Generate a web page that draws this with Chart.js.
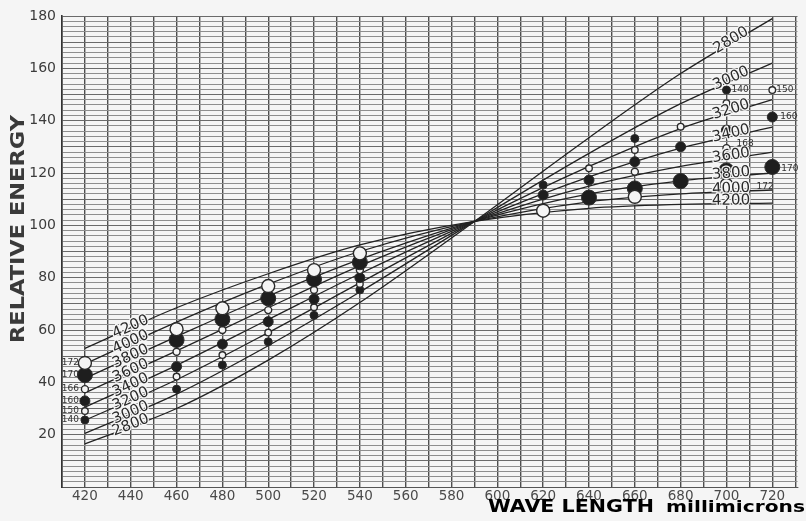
<!DOCTYPE html>
<html>
<head>
<meta charset="utf-8">
<script src="https://cdn.jsdelivr.net/npm/chart.js@4/dist/chart.umd.min.js"></script>
<style>
  html, body { margin: 0; padding: 0; background: #f5f5f5; }
  #wrap { width: 806px; height: 521px; position: relative; }
  canvas { display: block; }
</style>
</head>
<body>
<div id="wrap"><canvas id="c" width="806" height="521"></canvas></div>
<script>
// ---- Data ----
// Colour-temperature curves (relative energy vs wave length)
const curveWavelengths = [420, 460, 500, 540, 590, 640, 680, 720];
const tempLabels = ['2800', '3000', '3200', '3400', '3600', '3800', '4000', '4200'];
const k2800 = [16.5, 30, 48.5, 70.5, 101.5, 133.5, 158, 179];
const k3000 = [20.5, 35.5, 54, 74.5, 101.5, 127.5, 146.5, 162];
const k3200 = [25.5, 41, 59, 78, 101.5, 122.5, 137, 148];
const k3400 = [30.5, 46.5, 64, 81.5, 101.5, 118.5, 129.5, 137.5];
const k3600 = [36, 52, 68.5, 84.5, 101.5, 115, 122.5, 128];
const k3800 = [41.5, 57.5, 73, 87, 101.5, 112, 117, 120];
const k4000 = [47, 63, 77.5, 90, 101.5, 109, 112, 113.5];
const k4200 = [53, 68.5, 81.5, 92.5, 101.5, 106.5, 108, 108.5];

// Measured points (series named by the small numbers printed beside them)
const markerWavelengths = [420, 460, 480, 500, 520, 540, 620, 640, 660, 680, 700, 720];
const s172 = [47.4, 60.3, 68.3, 76.8, 82.9, 89.3, 105.6, null, 110.9, null, 115.4, null];
const s170 = [42.8, 56.2, 64.1, 72.1, 79.4, 85.9, null, 110.6, 114.1, 116.9, 121, 122.3];
const s168 = [37.4, 51.7, 60, 67.6, 75.3, 82.9, null, null, 120.5, null, 129.5, null];
const s160 = [32.9, 46, 54.6, 63.2, 71.8, 80, 111.6, 117.3, 124.3, 130, 136.4, 141.4];
const s150 = [29, 42.2, 50.4, 59, 68.7, 77.6, null, 121.8, 128.8, 137.7, 146.7, 151.7];
const s140 = [25.6, 37.4, 46.6, 55.5, 65.6, 75.3, 115.4, null, 133.2, null, 151.7, null];

// Axis tick labels
const xTickLabels = [420, 440, 460, 480, 500, 520, 540, 560, 580, 600, 620, 640, 660, 680, 700, 720];
const yTickLabels = [20, 40, 60, 80, 100, 120, 140, 160, 180];

// Text beside the point columns
const leftPointLabels = ['172', '170', '166', '160', '150', '140'];

// ---- Build chart ----
const paper = '#f5f5f5';
const ink = '#222';
const curves = [k2800, k3000, k3200, k3400, k3600, k3800, k4000, k4200];

function toPts(xs, ys) {
  const out = [];
  xs.forEach((x, i) => { if (ys[i] !== null) out.push({ x: x, y: ys[i] }); });
  return out;
}

const datasets = [];
curves.forEach((arr, i) => {
  datasets.push({
    label: tempLabels[i],
    data: toPts(curveWavelengths, arr),
    showLine: true,
    borderColor: ink,
    borderWidth: 1.3,
    pointRadius: 0,
    cubicInterpolationMode: 'monotone',
    fill: false,
    order: 2
  });
});

const markerSeries = [
  { name: '172', arr: s172, r: 6.5, filled: false },
  { name: '170', arr: s170, r: 7.5, filled: true },
  { name: '168', arr: s168, r: 3.5, filled: false },
  { name: '160', arr: s160, r: 5, filled: true },
  { name: '150', arr: s150, r: 3.3, filled: false },
  { name: '140', arr: s140, r: 4, filled: true }
];
markerSeries.forEach(m => {
  datasets.push({
    label: m.name,
    data: toPts(markerWavelengths, m.arr),
    showLine: false,
    pointStyle: 'circle',
    pointRadius: m.r,
    pointBackgroundColor: m.filled ? '#1e1e1e' : paper,
    pointBorderColor: '#2a2a2a',
    pointBorderWidth: m.filled ? 1 : 1.4,
    order: 1
  });
});

function valAt(arr, xs, x) {
  for (let i = 0; i < xs.length - 1; i++) {
    if (x >= xs[i] && x <= xs[i + 1]) {
      const t = (x - xs[i]) / (xs[i + 1] - xs[i]);
      return arr[i] + (arr[i + 1] - arr[i]) * t;
    }
  }
  return arr[arr.length - 1];
}

const annot = {
  id: 'annot',
  beforeDraw(chart) {
    const c = chart.ctx;
    c.save();
    c.fillStyle = paper;
    c.fillRect(0, 0, chart.width, chart.height);
    c.restore();
  },
  afterDatasetsDraw(chart) {
    const c = chart.ctx, xs = chart.scales.x, ys = chart.scales.y;
    c.save();
    // Temperature labels on the curves
    c.font = '15px "DejaVu Sans"';
    c.fillStyle = '#2a2a2a';
    c.textAlign = 'center';
    c.textBaseline = 'middle';
    curves.forEach((arr, i) => {
      [[440, 420, 460, -1], [702, 680, 720, -3]].forEach(([lx, a, b, dy]) => {
        const px = xs.getPixelForValue(lx);
        const py = ys.getPixelForValue(valAt(arr, curveWavelengths, lx)) + dy;
        const ang = Math.atan2(
          ys.getPixelForValue(valAt(arr, curveWavelengths, b)) - ys.getPixelForValue(valAt(arr, curveWavelengths, a)),
          xs.getPixelForValue(b) - xs.getPixelForValue(a));
        c.save();
        c.translate(px, py);
        c.rotate(ang);
        c.strokeStyle = paper;
        c.lineWidth = 2.5;
        c.strokeText(tempLabels[i], 0, 0);
        c.fillText(tempLabels[i], 0, 0);
        c.restore();
      });
    });
    // Small labels beside the point columns
    c.font = '9px "DejaVu Sans"';
    c.fillStyle = '#333';
    c.textAlign = 'right';
    const x420 = xs.getPixelForValue(420);
    const leftVals = [s172[0], s170[0], s168[0], s160[0], s150[0], s140[0]];
    leftPointLabels.forEach((t, i) => {
      c.fillText(t, x420 - 6, ys.getPixelForValue(leftVals[i]));
    });
    c.textAlign = 'left';
    const x700 = xs.getPixelForValue(700), x720 = xs.getPixelForValue(720);
    c.fillText('140', x700 + 5, ys.getPixelForValue(s140[10]));
    c.fillText('168', x700 + 10, ys.getPixelForValue(s168[10]) - 4);
    c.fillText('172', x700 + 30, ys.getPixelForValue(s172[10]) + 2);
    c.fillText('150', x720 + 4, ys.getPixelForValue(s150[11]));
    c.fillText('160', x720 + 8, ys.getPixelForValue(s160[11]));
    c.fillText('170', x720 + 9, ys.getPixelForValue(s170[11]) + 2);
    c.restore();

    // Axis titles
    c.save();
    c.fillStyle = '#3a3a3a';
    c.font = 'bold 19px "DejaVu Sans"';
    c.textAlign = 'center';
    c.textBaseline = 'middle';
    const yt = 'RELATIVE ENERGY';
    const w0 = c.measureText(yt).width;
    c.translate(19, 229);
    c.rotate(-Math.PI / 2);
    c.scale(228 / w0, 1);
    c.fillText(yt, 0, 0);
    c.restore();

    c.save();
    c.fillStyle = '#000';
    c.textBaseline = 'alphabetic';
    c.textAlign = 'left';
    c.font = 'bold 18px "DejaVu Sans"';
    const t1 = 'WAVE LENGTH';
    const w1 = c.measureText(t1).width;
    c.translate(488, 512);
    c.scale(166 / w1, 1);
    c.fillText(t1, 0, 0);
    c.restore();
    c.save();
    c.fillStyle = '#000';
    c.font = 'bold 15px "DejaVu Sans"';
    const t2 = 'millimicrons';
    const w2 = c.measureText(t2).width;
    c.translate(666, 512);
    c.scale(139 / w2, 1);
    c.fillText(t2, 0, 0);
    c.restore();
  }
};

new Chart(document.getElementById('c'), {
  type: 'scatter',
  data: { datasets: datasets },
  options: {
    responsive: false,
    animation: false,
    devicePixelRatio: 1,
    layout: { padding: { top: 16, right: 0, bottom: 0, left: 0 } },
    plugins: { legend: { display: false }, tooltip: { enabled: false } },
    scales: {
      x: {
        type: 'linear',
        min: 410,
        max: 731,
        ticks: {
          stepSize: 10,
          includeBounds: false,
          autoSkip: false,
          maxRotation: 0,
          padding: 1,
          color: '#4a4a4a',
          font: { family: 'DejaVu Sans', size: 13.5 },
          callback: v => xTickLabels.includes(v) ? String(v) : ''
        },
        grid: { color: '#4e4e4e', lineWidth: 1.4, drawTicks: false },
        border: { display: true, color: '#555', width: 1 },
        afterFit: s => { s.height = 34; }
      },
      y: {
        min: 0,
        max: 180,
        ticks: {
          stepSize: 2,
          includeBounds: false,
          autoSkip: false,
          padding: 6,
          color: '#3c3c3c',
          font: { family: 'DejaVu Sans', size: 14 },
          callback: v => yTickLabels.includes(v) ? String(v) : ''
        },
        grid: {
          color: ctx => (ctx.tick && ctx.tick.value % 10 === 0) ? '#6a6a6a' : '#8e8e8e',
          lineWidth: 1,
          drawTicks: false
        },
        border: { display: true, color: '#333', width: 1.6 },
        afterFit: s => { s.width = 62; }
      }
    }
  },
  plugins: [annot]
});
</script>
</body>
</html>
